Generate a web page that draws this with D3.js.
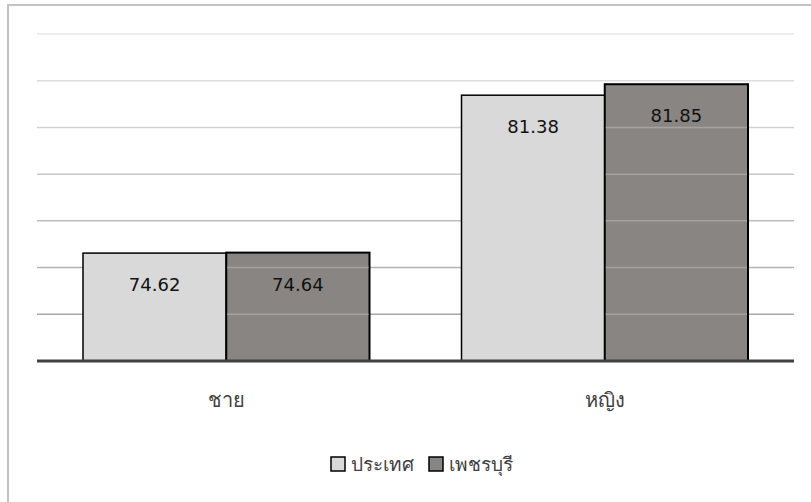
<!DOCTYPE html>
<html>
<head>
<meta charset="utf-8">
<script src="https://cdn.jsdelivr.net/npm/d3@7"></script>
<style>
  body { margin: 0; background: #fff; }
  svg { display: block; font-family: "DejaVu Sans", "Noto Sans", sans-serif; }
</style>
</head>
<body>
<svg width="811" height="502"></svg>
<script>
// data
var categories = ["ชาย", "หญิง"];
var seriesNames = ["ประเทศ", "เพชรบุรี"];
var country = [74.62, 81.38];
var phetchaburi = [74.64, 81.85];
var yTicks = [70, 72, 74, 76, 78, 80, 82, 84];

var colors = ["#d9d9d9", "#898583"];

const svg    = d3.select("svg"),
      margin = {top: 34, right: 17, bottom: 141, left: 37},
      width  = +svg.attr("width")  - margin.left - margin.right,
      height = +svg.attr("height") - margin.top  - margin.bottom;

// outer frame (top and left edges show)
svg.append("path")
    .attr("d", "M8,502 V5 H811")
    .attr("fill", "none")
    .attr("stroke", "#c3c3c3")
    .attr("stroke-width", 2);

const g = svg.append("g").attr("transform", `translate(${margin.left},${margin.top})`);

const x0 = d3.scaleBand().domain(categories).range([0, width]).paddingInner(0).paddingOuter(0);
const x1 = d3.scaleBand().domain(seriesNames).range([46, x0.bandwidth() - 46]);
const y  = d3.scaleLinear().domain([70, 84]).range([height, 0]);

// gridlines get darker toward the bottom
const gridColor = d3.scaleLinear().domain([84, 72]).range(["#e6e6e6", "#a9a9a9"]);

function drawGrid(sel, op) {
  sel.selectAll(".grid")
    .data(yTicks.filter(d => d > 70))
    .enter().append("line")
      .attr("x1", 0).attr("x2", width)
      .attr("y1", d => y(d)).attr("y2", d => y(d))
      .attr("stroke", d => gridColor(d))
      .attr("stroke-width", 1.5)
      .attr("opacity", op);
}
drawGrid(g.append("g"), 1);

const rows = categories.map((c, i) => ({cat: c, vals: [country[i], phetchaburi[i]]}));

const groups = g.selectAll(".cat")
  .data(rows)
  .enter().append("g")
    .attr("transform", d => `translate(${x0(d.cat)},0)`);

groups.selectAll("rect")
  .data(d => d.vals.map((v, j) => ({name: seriesNames[j], v: v, j: j})))
  .enter().append("rect")
    .attr("x", d => x1(d.name))
    .attr("y", d => y(d.v))
    .attr("width", x1.bandwidth())
    .attr("height", d => height - y(d.v))
    .attr("fill", d => colors[d.j])
    .attr("stroke", "#000")
    .attr("stroke-width", d => d.j ? 2 : 1.5);

// faint gridlines show through the dark bars
const thru = g.append("g");
rows.forEach(r => {
  thru.selectAll(null)
    .data(yTicks.filter(t => t > 70 && t < r.vals[1]))
    .enter().append("line")
      .attr("x1", x0(r.cat) + x1(seriesNames[1]) + 1)
      .attr("x2", x0(r.cat) + x1(seriesNames[1]) + x1.bandwidth() - 1)
      .attr("y1", d => y(d)).attr("y2", d => y(d))
      .attr("stroke", "#a5a2a0")
      .attr("stroke-width", 1.5);
});

groups.selectAll(".lbl")
  .data(d => d.vals.map((v, j) => ({name: seriesNames[j], v: v})))
  .enter().append("text")
    .attr("x", d => x1(d.name) + x1.bandwidth() / 2)
    .attr("y", d => y(d.v) + 38)
    .attr("text-anchor", "middle")
    .style("font-size", "18px")
    .attr("fill", "#111")
    .text(d => d.v.toFixed(2));

// baseline
g.append("line")
    .attr("x1", 0).attr("x2", width)
    .attr("y1", height).attr("y2", height)
    .attr("stroke", "#404040")
    .attr("stroke-width", 3);

// category axis
g.append("g")
    .attr("transform", `translate(0,${height})`)
    .call(d3.axisBottom(x0).tickSize(0).tickPadding(32))
    .call(a => a.select(".domain").remove())
    .selectAll("text")
      .style("font-size", "20px")
      .style("font-family", "\"DejaVu Sans\", sans-serif")
      .attr("fill", "#404040");

// legend
const legend = svg.append("g").attr("transform", "translate(331,457)");
const lx = [0, 98];
seriesNames.forEach((s, i) => {
  legend.append("rect")
    .attr("x", lx[i]).attr("y", 0)
    .attr("width", 14).attr("height", 14)
    .attr("fill", colors[i])
    .attr("stroke", "#000")
    .attr("stroke-width", 1.5);
  legend.append("text")
    .attr("x", lx[i] + 20).attr("y", 14)
    .style("font-size", "19px")
    .attr("fill", "#404040")
    .text(s);
});
</script>
</body>
</html>
